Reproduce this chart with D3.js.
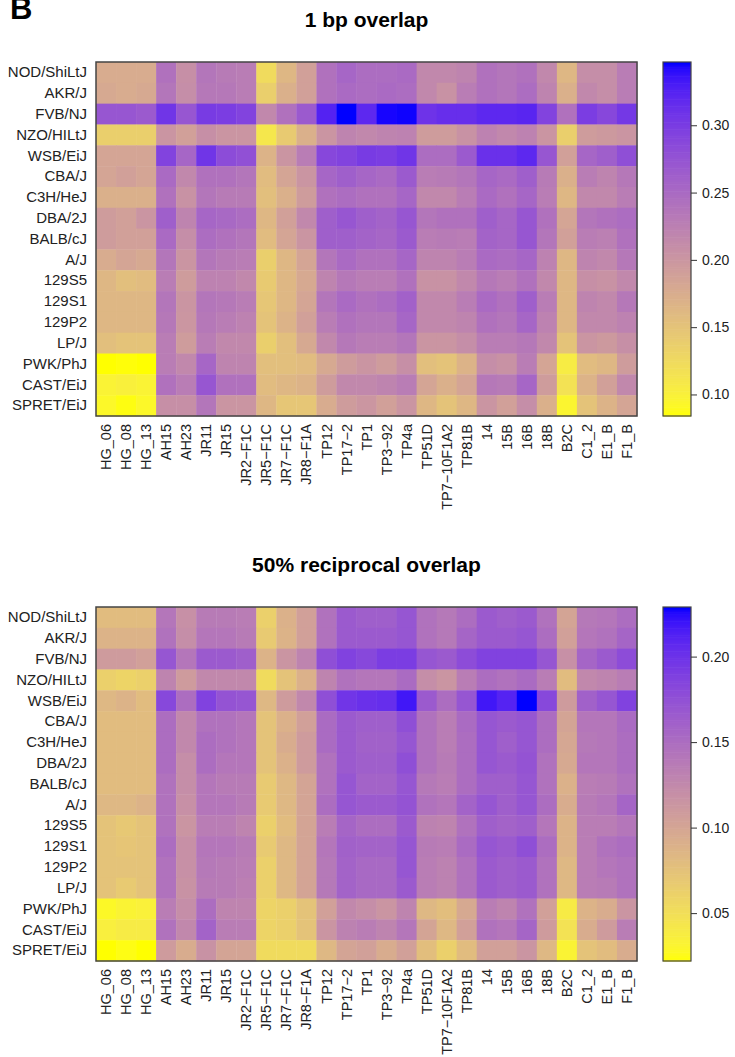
<!DOCTYPE html>
<html>
<head>
<meta charset="utf-8">
<script src="https://d3js.org/d3.v7.min.js"></script>
<style>
  body { margin: 0; background: #fff; }
  text { font-family: "Liberation Sans", Arial, sans-serif; }
</style>
</head>
<body>
<div id="chart"></div>
<script>
  // strains (rows) and samples (columns)
  const strains = ["NOD/ShiLtJ", "AKR/J", "FVB/NJ", "NZO/HILtJ", "WSB/EiJ", "CBA/J", "C3H/HeJ",
    "DBA/2J", "BALB/cJ", "A/J", "129S5", "129S1", "129P2", "LP/J", "PWK/PhJ", "CAST/EiJ", "SPRET/EiJ"];
  const samples = ["HG_06", "HG_08", "HG_13", "AH15", "AH23", "JR11", "JR15", "JR2\u2212F1C", "JR5\u2212F1C",
    "JR7\u2212F1C", "JR8\u2212F1A", "TP12", "TP17\u22122", "TP1", "TP3\u221292", "TP4a", "TP51D", "TP7\u221210F1A2",
    "TP81B", "14", "15B", "16B", "18B", "B2C", "C1_2", "E1_B", "F1_B"];

  // 1 bp overlap
  const bpOverlap = [
    [0.176,0.176,0.176, 0.242,0.208,0.237,0.231,0.229, 0.123,0.163,0.189, 0.242,0.255,0.247,0.247,0.250, 0.216,0.216,0.221, 0.242,0.237,0.242,0.216, 0.163, 0.210,0.210,0.229],
    [0.179,0.176,0.179, 0.237,0.210,0.234,0.234,0.229, 0.137,0.171,0.189, 0.242,0.250,0.247,0.250,0.247, 0.216,0.205,0.229, 0.242,0.237,0.247,0.221, 0.171, 0.216,0.210,0.229],
    [0.273,0.273,0.268, 0.308,0.273,0.302,0.300,0.294, 0.216,0.242,0.268, 0.326,0.347,0.321,0.345,0.346, 0.310,0.315,0.315, 0.321,0.321,0.323,0.294, 0.242, 0.300,0.289,0.305],
    [0.137,0.137,0.137, 0.202,0.189,0.208,0.202,0.202, 0.110,0.142,0.171, 0.202,0.221,0.216,0.221,0.223, 0.194,0.194,0.205, 0.223,0.216,0.223,0.202, 0.137, 0.194,0.197,0.202],
    [0.184,0.184,0.184, 0.294,0.255,0.308,0.284,0.279, 0.168,0.202,0.229, 0.289,0.294,0.302,0.300,0.308, 0.247,0.247,0.268, 0.313,0.313,0.321,0.273, 0.189, 0.255,0.263,0.281],
    [0.184,0.189,0.184, 0.250,0.216,0.242,0.242,0.237, 0.158,0.184,0.202, 0.255,0.263,0.255,0.250,0.268, 0.229,0.231,0.237, 0.255,0.250,0.263,0.231, 0.171, 0.229,0.221,0.234],
    [0.171,0.171,0.171, 0.242,0.205,0.237,0.231,0.231, 0.155,0.171,0.194, 0.242,0.247,0.242,0.242,0.255, 0.216,0.216,0.229, 0.250,0.242,0.255,0.229, 0.163, 0.216,0.216,0.229],
    [0.194,0.189,0.202, 0.263,0.221,0.255,0.252,0.247, 0.163,0.189,0.216, 0.263,0.273,0.263,0.258,0.273, 0.237,0.242,0.242, 0.263,0.255,0.273,0.242, 0.184, 0.237,0.242,0.247],
    [0.194,0.189,0.189, 0.250,0.210,0.247,0.242,0.237, 0.158,0.184,0.202, 0.263,0.263,0.258,0.255,0.268, 0.229,0.231,0.229, 0.258,0.255,0.273,0.237, 0.189, 0.229,0.226,0.242],
    [0.176,0.184,0.179, 0.237,0.202,0.237,0.231,0.229, 0.137,0.163,0.184, 0.237,0.250,0.242,0.242,0.255, 0.221,0.221,0.229, 0.250,0.247,0.255,0.223, 0.163, 0.221,0.216,0.234],
    [0.163,0.155,0.158, 0.229,0.194,0.223,0.223,0.216, 0.142,0.163,0.179, 0.221,0.234,0.229,0.229,0.242, 0.205,0.205,0.216, 0.234,0.229,0.242,0.216, 0.163, 0.208,0.205,0.216],
    [0.163,0.163,0.163, 0.237,0.202,0.237,0.234,0.229, 0.147,0.163,0.184, 0.237,0.250,0.242,0.247,0.260, 0.216,0.216,0.229, 0.250,0.242,0.263,0.229, 0.163, 0.221,0.216,0.234],
    [0.163,0.163,0.163, 0.234,0.200,0.234,0.229,0.223, 0.150,0.168,0.189, 0.229,0.242,0.237,0.237,0.255, 0.216,0.216,0.221, 0.242,0.237,0.255,0.223, 0.163, 0.216,0.216,0.223],
    [0.155,0.150,0.150, 0.229,0.194,0.229,0.216,0.216, 0.137,0.155,0.179, 0.216,0.234,0.229,0.229,0.237, 0.202,0.202,0.210, 0.229,0.229,0.234,0.216, 0.150, 0.202,0.197,0.208],
    [0.084,0.085,0.084, 0.229,0.216,0.255,0.221,0.221, 0.155,0.155,0.158, 0.179,0.194,0.202,0.194,0.208, 0.155,0.150,0.168, 0.210,0.205,0.229,0.184, 0.105, 0.158,0.163,0.194],
    [0.097,0.100,0.097, 0.242,0.229,0.273,0.242,0.242, 0.158,0.163,0.168, 0.194,0.216,0.216,0.221,0.229, 0.184,0.171,0.184, 0.234,0.231,0.255,0.194, 0.116, 0.168,0.189,0.216],
    [0.092,0.086,0.092, 0.208,0.208,0.237,0.202,0.202, 0.163,0.147,0.147, 0.176,0.194,0.200,0.189,0.202, 0.163,0.150,0.163, 0.202,0.189,0.210,0.171, 0.095, 0.150,0.168,0.184]
  ];

  // 50% reciprocal overlap
  const recipOverlap = [
    [0.080,0.080,0.080, 0.142,0.119,0.138,0.138,0.136, 0.063,0.090,0.105, 0.146,0.167,0.163,0.163,0.171, 0.146,0.140,0.150, 0.167,0.163,0.167,0.146, 0.101, 0.140,0.142,0.150],
    [0.088,0.088,0.088, 0.146,0.121,0.142,0.142,0.138, 0.068,0.088,0.105, 0.146,0.167,0.167,0.167,0.171, 0.146,0.140,0.157, 0.167,0.167,0.171,0.150, 0.105, 0.142,0.146,0.157],
    [0.109,0.109,0.105, 0.171,0.142,0.167,0.167,0.163, 0.088,0.115,0.130, 0.177,0.188,0.183,0.192,0.192, 0.171,0.167,0.179, 0.188,0.188,0.188,0.171, 0.119, 0.157,0.167,0.179],
    [0.063,0.059,0.063, 0.130,0.109,0.126,0.126,0.126, 0.053,0.074,0.090, 0.130,0.146,0.142,0.142,0.152, 0.121,0.115,0.136, 0.150,0.146,0.152,0.136, 0.080, 0.126,0.130,0.136],
    [0.084,0.088,0.080, 0.183,0.150,0.188,0.173,0.171, 0.084,0.109,0.126, 0.177,0.198,0.202,0.204,0.219, 0.167,0.150,0.171, 0.219,0.212,0.229,0.183, 0.109, 0.161,0.171,0.188],
    [0.080,0.080,0.080, 0.150,0.126,0.146,0.146,0.142, 0.074,0.090,0.105, 0.152,0.167,0.163,0.163,0.177, 0.146,0.136,0.152, 0.171,0.167,0.171,0.150, 0.101, 0.142,0.142,0.152],
    [0.080,0.080,0.080, 0.150,0.126,0.150,0.146,0.142, 0.074,0.094,0.109, 0.152,0.167,0.161,0.161,0.171, 0.146,0.136,0.150, 0.171,0.163,0.171,0.150, 0.099, 0.140,0.142,0.150],
    [0.080,0.080,0.080, 0.150,0.121,0.150,0.142,0.142, 0.074,0.090,0.109, 0.146,0.167,0.163,0.163,0.177, 0.146,0.138,0.150, 0.171,0.167,0.173,0.146, 0.097, 0.142,0.142,0.150],
    [0.080,0.080,0.080, 0.146,0.121,0.142,0.138,0.138, 0.068,0.084,0.101, 0.146,0.171,0.159,0.159,0.171, 0.140,0.136,0.150, 0.163,0.163,0.171,0.146, 0.090, 0.136,0.138,0.146],
    [0.084,0.084,0.088, 0.146,0.119,0.142,0.142,0.138, 0.068,0.084,0.101, 0.150,0.171,0.167,0.167,0.173, 0.146,0.142,0.159, 0.171,0.163,0.171,0.150, 0.094, 0.138,0.142,0.157],
    [0.074,0.070,0.074, 0.146,0.115,0.136,0.136,0.130, 0.063,0.080,0.101, 0.136,0.157,0.150,0.150,0.167, 0.132,0.130,0.146, 0.163,0.159,0.163,0.142, 0.088, 0.136,0.136,0.142],
    [0.074,0.072,0.074, 0.150,0.119,0.142,0.142,0.138, 0.068,0.084,0.101, 0.142,0.161,0.159,0.159,0.171, 0.138,0.136,0.152, 0.171,0.167,0.177,0.150, 0.088, 0.136,0.146,0.150],
    [0.074,0.074,0.074, 0.146,0.119,0.140,0.138,0.136, 0.063,0.084,0.101, 0.140,0.159,0.154,0.154,0.171, 0.136,0.132,0.146, 0.167,0.163,0.167,0.146, 0.084, 0.136,0.142,0.146],
    [0.074,0.068,0.074, 0.146,0.117,0.138,0.138,0.134, 0.063,0.084,0.101, 0.140,0.159,0.154,0.154,0.167, 0.136,0.132,0.146, 0.167,0.163,0.167,0.146, 0.084, 0.136,0.138,0.146],
    [0.028,0.032,0.034, 0.136,0.121,0.150,0.130,0.130, 0.059,0.063,0.074, 0.105,0.126,0.121,0.115,0.130, 0.084,0.078,0.097, 0.136,0.130,0.146,0.105, 0.039, 0.088,0.094,0.115],
    [0.036,0.039,0.039, 0.146,0.126,0.159,0.136,0.136, 0.059,0.063,0.074, 0.115,0.132,0.136,0.130,0.142, 0.101,0.084,0.105, 0.146,0.142,0.157,0.109, 0.047, 0.094,0.109,0.136],
    [0.022,0.024,0.022, 0.109,0.094,0.117,0.101,0.101, 0.053,0.053,0.053, 0.084,0.101,0.105,0.094,0.105, 0.078,0.063,0.080, 0.105,0.105,0.115,0.084, 0.032, 0.074,0.080,0.094]
  ];

  const bpTicks = [0.10, 0.15, 0.20, 0.25, 0.30];
  const recipTicks = [0.05, 0.10, 0.15, 0.20];

  const width = 735, height = 1057;
  const svg = d3.select("#chart").append("svg")
    .attr("width", width)
    .attr("height", height);

  // panel letter
  svg.append("text")
    .attr("x", 10).attr("y", 19)
    .style("font-size", "31px").style("font-weight", "bold")
    .text("B");

  function drawPanel(matrix, title, top, ticks) {
    const left = 96, right = 637, bottom = top + 354;
    const barX = 663, barW = 28;

    const x = d3.scaleBand().domain(samples).range([left, right]);
    const y = d3.scaleBand().domain(strains).range([top, bottom]);
    const ext = d3.extent(matrix.flat());
    const color = d3.scaleSequential(d3.interpolateLab("yellow", "blue")).domain(ext);

    const g = svg.append("g");

    g.append("text")
      .attr("x", (left + right) / 2).attr("y", top - 35)
      .attr("text-anchor", "middle")
      .style("font-size", "21px").style("font-weight", "bold")
      .text(title);

    // cells
    const cells = [];
    matrix.forEach((row, i) => row.forEach((v, j) => cells.push({ strain: strains[i], sample: samples[j], v: v })));
    g.append("g").selectAll("rect")
      .data(cells)
      .join("rect")
        .attr("x", d => x(d.sample))
        .attr("y", d => y(d.strain))
        .attr("width", x.bandwidth() + 0.4)
        .attr("height", y.bandwidth() + 0.4)
        .attr("fill", d => color(d.v));

    g.append("rect")
      .attr("x", left).attr("y", top)
      .attr("width", right - left).attr("height", bottom - top)
      .attr("fill", "none").attr("stroke", "#444").attr("stroke-width", 1.5);

    // axes
    const ya = g.append("g")
      .attr("transform", `translate(${left},0)`)
      .call(d3.axisLeft(y).tickSize(0).tickPadding(9));
    ya.select(".domain").remove();
    ya.selectAll("text").style("font-size", "15px").attr("fill", "#222");

    const xa = g.append("g")
      .attr("transform", `translate(0,${bottom})`)
      .call(d3.axisBottom(x).tickSize(0));
    xa.select(".domain").remove();
    xa.selectAll("text")
      .attr("transform", "rotate(-90)")
      .attr("x", -8).attr("y", 0).attr("dy", "0.35em")
      .style("text-anchor", "end")
      .style("font-size", "14.5px").attr("fill", "#222");

    // colour key
    const yc = d3.scaleLinear().domain(ext).range([bottom, top]);
    const steps = d3.range(200).map(k => ext[0] + (ext[1] - ext[0]) * k / 199);
    const stepH = (bottom - top) / 200;
    g.append("g").selectAll("rect")
      .data(steps)
      .join("rect")
        .attr("x", barX)
        .attr("y", (d, k) => bottom - (k + 1) * stepH)
        .attr("width", barW)
        .attr("height", stepH + 0.6)
        .attr("fill", d => color(d));
    g.append("rect")
      .attr("x", barX).attr("y", top)
      .attr("width", barW).attr("height", bottom - top)
      .attr("fill", "none").attr("stroke", "#444").attr("stroke-width", 1.2);

    const ca = g.append("g")
      .attr("transform", `translate(${barX + barW},0)`)
      .call(d3.axisRight(yc).tickValues(ticks).tickSize(6).tickPadding(5).tickFormat(d3.format(".2f")));
    ca.select(".domain").remove();
    ca.selectAll("line").attr("stroke", "#333");
    ca.selectAll("text").style("font-size", "14px").attr("fill", "#222");
  }

  drawPanel(bpOverlap, "1 bp overlap", 62, bpTicks);
  drawPanel(recipOverlap, "50% reciprocal overlap", 607, recipTicks);
</script>
</body>
</html>
